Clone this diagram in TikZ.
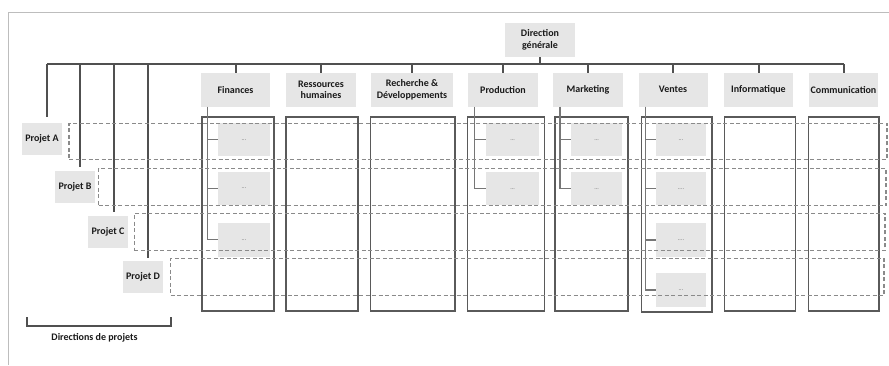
\documentclass[tikz,border=0pt]{standalone}
\usepackage{fontspec}
\setmainfont{Carlito}
\begin{document}
\begin{tikzpicture}[x=1pt,y=-1pt,
  box/.style={fill=boxgray,draw=none,inner sep=0pt,font=\bfseries\fontsize{10}{11.8}\selectfont,text=txt,align=center},
  dept/.style={box,minimum width=69pt,minimum height=34pt},
  proj/.style={box,minimum width=40pt,minimum height=32pt},
  sub/.style={fill=boxgray,draw=none,inner sep=0pt,minimum height=33pt,text=dotgray,font=\fontsize{6}{7}\selectfont},
  col/.style={draw=colgray,line width=1.4pt,fill=none,inner sep=0pt,minimum height=194pt},
  row/.style={draw=dashgray,line width=1.1pt,dash pattern=on 4pt off 2.5pt},
  bus/.style={draw=busgray,line width=2pt},
  trunk/.style={draw=trunkgray,line width=1.2pt}]
\definecolor{boxgray}{HTML}{E6E6E6}
\definecolor{txt}{HTML}{1A1A1A}
\definecolor{dotgray}{HTML}{6A6A6A}
\definecolor{colgray}{HTML}{5A5A5A}
\definecolor{dashgray}{HTML}{8A8A8A}
\definecolor{busgray}{HTML}{505050}
\definecolor{trunkgray}{HTML}{767676}
\definecolor{framegray}{HTML}{BDBDBD}
\useasboundingbox (0,0) rectangle (889,365);
\fill[white] (0,0) rectangle (889,365);
% frame
\coordinate (frTL) at (8,12);
\coordinate (frTR) at (889,12);
\coordinate (frBL) at (8,365);
\draw[framegray,line width=1pt] (frBL) -- (frTL) -- (frTR);

% top node
\node[box,minimum width=70pt,minimum height=34pt] (dg) at (540,40) {Direction\\générale};

% departments
\node[dept] (fin) at (235.5,89.7) {Finances};
\node[dept,minimum width=70pt] (rh) at (321,89.7) {Ressources\\humaines};
\node[dept,minimum width=82pt] (rd) at (412,89.7) {Recherche \&\\Développements};
\node[dept,minimum width=70pt] (prod) at (503,89.7) {Production};
\node[dept,minimum width=70pt] (mkt) at (588,89.7) {Marketing};
\node[dept] (ven) at (673,89.7) {Ventes};
\node[dept] (inf) at (758.5,89.7) {Informatique};
\node[dept] (com) at (843.5,89.7) {Communication};

% projects
\node[proj] (pa) at (42,139) {Projet A};
\node[proj] (pb) at (75,186.5) {Projet B};
\node[proj] (pc) at (108,231.5) {Projet C};
\node[proj] (pd) at (143,277) {Projet D};

% bus
\coordinate (busL) at (47,64.3);
\coordinate (busB) at (80.3,64.3);
\coordinate (busC) at (114.3,64.3);
\coordinate (busD) at (148.3,64.3);
\coordinate (busR) at (843.5,64.3);
\draw[bus] (busL) -- (busR);
\draw[bus] (dg.south) -- (dg.south |- busL);
\foreach \d in {fin,rh,rd,prod,mkt,ven,inf,com}{
  \draw[bus] (\d.north) -- (\d.north |- busL);
}
\draw[bus] (busL) -- ([xshift=5pt,yshift=6pt]pa.north);
\draw[bus] (busB) -- ([xshift=5.3pt,yshift=3pt]pb.north);
\draw[bus] (busC) -- ([xshift=6.3pt,yshift=3pt]pc.north);
\draw[bus] (busD) -- ([xshift=5.3pt,yshift=3pt]pd.north);

% columns
\node[col,minimum width=72pt] (cfin) at (238,214) {};
\node[col,minimum width=71.7pt] (crh) at (322,214) {};
\node[col,minimum width=84.3pt] (crd) at (412.9,214) {};
\node[col,minimum width=77pt] (cprod) at (505.8,214) {};
\node[col,minimum width=73pt] (cmkt) at (591.5,214) {};
\node[col,minimum width=70.7pt,minimum height=195pt] (cven) at (676.7,214.5) {};
\node[col,minimum width=71pt] (cinf) at (759.8,214) {};
\node[col,minimum width=70.3pt] (ccom) at (843.9,214) {};

% sub boxes
\node[sub,minimum width=52pt] (fA) at (244,139.7) {...};
\node[sub,minimum width=52pt] (fB) at (244,188.5) {...};
\node[sub,minimum width=52pt,minimum height=34pt] (fC) at (244,239.7) {...};
\node[sub,minimum width=53pt] (pA) at (512.7,139.7) {...};
\node[sub,minimum width=53pt] (pB) at (512.7,188.8) {...};
\node[sub,minimum width=51pt] (mA) at (596.7,139.7) {...};
\node[sub,minimum width=51pt] (mB) at (596.7,188.8) {...};
\node[sub,minimum width=50pt] (vA) at (681,139.8) {...};
\node[sub,minimum width=50pt] (vB) at (681,188.8) {....};
\node[sub,minimum width=50pt,minimum height=34.6pt] (vC) at (681,240) {....};
\node[sub,minimum width=50pt,minimum height=34.6pt] (vD) at (681,290) {...};

% trunks
\coordinate (tf) at ([xshift=-28.2pt]fin.south);
\coordinate (tp) at ([xshift=-28.7pt]prod.south);
\coordinate (tm) at ([xshift=-28pt]mkt.south);
\coordinate (tv) at ([xshift=-27.5pt]ven.south);
\foreach \b in {fA,fB,fC}{\draw[trunk] (tf) |- (\b.west);}
\foreach \b in {pA,pB}{\draw[trunk] (tp) |- (\b.west);}
\foreach \b in {mA,mB}{\draw[trunk] (tm) |- (\b.west);}
\foreach \b in {vA,vB,vC,vD}{\draw[trunk] (tv) |- (\b.west);}

% dashed rows
\node[row,minimum width=818pt,minimum height=36pt,inner sep=0pt] (rA) at (478,141.3) {};
\node[row,minimum width=787.3pt,minimum height=37.4pt,inner sep=0pt] (rB) at (492.35,187) {};
\node[row,minimum width=750.7pt,minimum height=37.4pt,inner sep=0pt] (rC) at (509.65,232) {};
\node[row,minimum width=713.3pt,minimum height=37.4pt,inner sep=0pt] (rD) at (527.35,277) {};

% bracket
\coordinate (brL) at (26.7,317);
\coordinate (brR) at (171,317);
\draw[busgray,line width=1.6pt] (brL) -- ++(0,9) -| (brR);
\node[box,fill=none] (lbl) at (94.5,338) {Directions de projets};
\end{tikzpicture}
\end{document}
